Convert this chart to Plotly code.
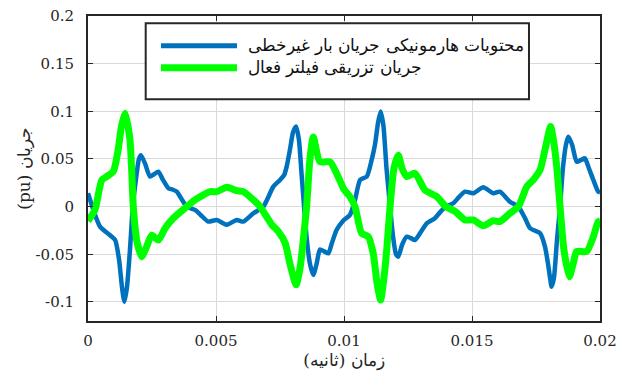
import plotly.graph_objects as go

# ---------------- data ----------------
blue_name = "محتویات هارمونیکی جریان بار غیرخطی"
green_name = "جریان تزریقی فیلتر فعال"

blue_t = [0.0, 0.00047, 0.00086, 0.00106, 0.00121, 0.00133, 0.00142, 0.00152, 0.00164, 0.00175,
          0.00188, 0.00199, 0.00207, 0.00223, 0.00242, 0.00258, 0.00275, 0.00293, 0.00314, 0.00330,
          0.00347, 0.00363, 0.00386, 0.00418, 0.00441, 0.00470, 0.00503, 0.00542, 0.00581, 0.00607,
          0.00646, 0.00685, 0.00724, 0.00750, 0.00766, 0.00776, 0.00789, 0.00801, 0.00813, 0.00824,
          0.00834, 0.00844, 0.00855, 0.00867, 0.00880, 0.00893, 0.00906, 0.00923, 0.00939, 0.00953,
          0.00971, 0.00996, 0.01023, 0.01043, 0.01063, 0.01089, 0.01108, 0.01121, 0.01133, 0.01143,
          0.01154, 0.01166, 0.01180, 0.01191, 0.01203, 0.01212, 0.01227, 0.01245, 0.01261, 0.01277,
          0.01297, 0.01323, 0.01355, 0.01375, 0.01398, 0.01427, 0.01449, 0.01473, 0.01505, 0.01544,
          0.01583, 0.01609, 0.01648, 0.01681, 0.01707, 0.01727, 0.01766, 0.01785, 0.01797, 0.01805,
          0.01811, 0.01820, 0.01832, 0.01844, 0.01855, 0.01867, 0.01876, 0.01891, 0.01909, 0.01926,
          0.01941, 0.01957, 0.01974, 0.01993, 0.02000]
blue_i = [0.014, -0.021, -0.030, -0.035, -0.055, -0.085, -0.0997, -0.085, -0.045, 0.0,
          0.030, 0.050, 0.054, 0.045, 0.0315, 0.034, 0.0367, 0.028, 0.0193, 0.018,
          0.0157, 0.009, 0.0, -0.0035, -0.009, -0.0157, -0.014, -0.019, -0.014, -0.0157,
          -0.007, 0.0, 0.021, 0.028, 0.033, 0.042, 0.060, 0.078, 0.084, 0.070,
          0.035, 0.0, -0.035, -0.060, -0.0717, -0.060, -0.045, -0.047, -0.049, -0.038,
          -0.0245, -0.015, -0.0087, 0.007, 0.028, 0.0315, 0.049, 0.065, 0.088, 0.0997,
          0.085, 0.040, 0.0, -0.030, -0.050, -0.0525, -0.040, -0.0315, -0.033, -0.035,
          -0.028, -0.0175, -0.0122, -0.006, 0.0, 0.0035, 0.010, 0.0157, 0.014, 0.0203,
          0.014, 0.0157, 0.0052, 0.0, -0.012, -0.0227, -0.028, -0.042, -0.060, -0.075,
          -0.084, -0.075, -0.035, 0.0, 0.040, 0.065, 0.0734, 0.065, 0.047, 0.049,
          0.0507, 0.040, 0.028, 0.0157, 0.015]

green_t = [0.0, 0.00027, 0.00054, 0.00073, 0.00099, 0.00118, 0.00131, 0.00145, 0.00164, 0.00177,
           0.00190, 0.00210, 0.00229, 0.00249, 0.00275, 0.00301, 0.00333, 0.00386, 0.00418, 0.00477,
           0.00503, 0.00542, 0.00581, 0.00607, 0.00646, 0.00672, 0.00718, 0.00743, 0.00770, 0.00789,
           0.00813, 0.00828, 0.00841, 0.00854, 0.00867, 0.00880, 0.00906, 0.00945, 0.00971, 0.01000,
           0.01023, 0.01043, 0.01069, 0.01095, 0.01114, 0.01129, 0.01143, 0.01156, 0.01167, 0.01180,
           0.01195, 0.01212, 0.01227, 0.01245, 0.01277, 0.01316, 0.01362, 0.01398, 0.01434, 0.01473,
           0.01505, 0.01544, 0.01583, 0.01609, 0.01648, 0.01681, 0.01714, 0.01739, 0.01766, 0.01785,
           0.01807, 0.01818, 0.01831, 0.01844, 0.01859, 0.01880, 0.01896, 0.01909, 0.01948, 0.01974,
           0.01993, 0.02000]
green_i = [-0.015, -0.0035, 0.028, 0.0315, 0.037, 0.060, 0.085, 0.098, 0.070, 0.0,
           -0.035, -0.0525, -0.042, -0.030, -0.035, -0.0227, -0.0122, 0.0, 0.007, 0.0157,
           0.0157, 0.0203, 0.0168, 0.0157, 0.007, 0.0, -0.019, -0.026, -0.038, -0.060,
           -0.082, -0.065, -0.035, 0.0, 0.050, 0.073, 0.047, 0.047, 0.035, 0.018,
           0.0105, 0.0, -0.028, -0.0315, -0.049, -0.080, -0.098, -0.075, -0.045, 0.0,
           0.040, 0.054, 0.040, 0.0315, 0.035, 0.0175, 0.0105, 0.0, -0.005, -0.014,
           -0.014, -0.020, -0.0147, -0.0157, -0.007, 0.0, 0.021, 0.028, 0.0385, 0.0595,
           0.084, 0.070, 0.042, 0.0, -0.045, -0.0735, -0.059, -0.047, -0.047, -0.0315,
           -0.0157, -0.015]

x_ticks = [0, 0.005, 0.01, 0.015, 0.02]
x_ticktext = ["0", "0.005", "0.01", "0.015", "0.02"]
y_ticks = [-0.1, -0.05, 0, 0.05, 0.1, 0.15, 0.2]
y_ticktext = ["-0.1", "-0.05", "0", "0.05", "0.1", "0.15", "0.2"]

x_title = "\u202Bزمان (ثانیه)\u202C"
y_title = "\u202Bجریان (pu)\u202C"

BLUE = "#0072BD"
GREEN = "#00FF00"
SERIF = "DejaVu Serif"
TXT = "#262626"

# ---------------- figure ----------------
fig = go.Figure()
fig.add_trace(go.Scatter(x=blue_t, y=blue_i, mode="lines", name=blue_name,
                         line=dict(color=BLUE, width=4.5, shape="spline", smoothing=0.6),
                         showlegend=False))
fig.add_trace(go.Scatter(x=green_t, y=green_i, mode="lines", name=green_name,
                         line=dict(color=GREEN, width=7, shape="spline", smoothing=0.6),
                         showlegend=False))

axis_common = dict(showgrid=True, gridcolor="#dadada", gridwidth=1, zeroline=False,
                   ticks="inside", ticklen=5, tickwidth=1, tickcolor=TXT,
                   showline=True, linecolor=TXT, linewidth=2, mirror="ticks",
                   automargin=False,
                   tickfont=dict(family=SERIF, size=15, color=TXT))

fig.update_xaxes(range=[0, 0.02], tickvals=x_ticks, ticktext=x_ticktext,
                 title=dict(text=x_title, font=dict(family=SERIF, size=17, color=TXT), standoff=2),
                 ticklabelstandoff=5, **axis_common)
fig.update_yaxes(range=[-0.12, 0.2], tickvals=y_ticks, ticktext=y_ticktext,
                 title=dict(text=y_title, font=dict(family=SERIF, size=17, color=TXT), standoff=1),
                 ticklabelstandoff=9, **axis_common)

# legend box drawn manually (MATLAB style)
leg_x0, leg_x1, leg_y0, leg_y1 = 0.1127, 0.8613, 0.727, 0.976
fig.add_shape(type="rect", xref="paper", yref="paper", x0=leg_x0, x1=leg_x1, y0=leg_y0, y1=leg_y1,
              line=dict(color=TXT, width=2), fillcolor="white", layer="above")
for yy, col, w, txt in [(0.9026, BLUE, 5, blue_name), (0.8305, GREEN, 7, green_name)]:
    fig.add_shape(type="line", xref="paper", yref="paper", x0=0.1426, x1=0.291, y0=yy, y1=yy,
                  line=dict(color=col, width=w), layer="above")
    fig.add_annotation(xref="paper", yref="paper", x=0.3086, y=yy, xanchor="left", yanchor="middle",
                       text=txt, showarrow=False, font=dict(family=SERIF, size=16.5, color="#111111"))

fig.update_layout(width=618, height=371, margin=dict(l=88, r=18, t=16, b=50),
                  paper_bgcolor="white", plot_bgcolor="white", showlegend=False)

fig.write_html("out.html")
